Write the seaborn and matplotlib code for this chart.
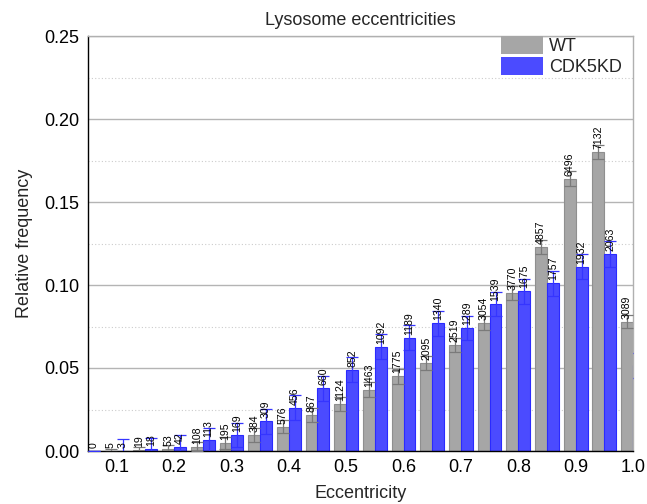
import matplotlib
matplotlib.use("Agg")
import matplotlib.pyplot as plt
import seaborn as sns
import pandas as pd
import numpy as np

# ---- data ----
bins = ["0.05", "0.10", "0.15", "0.20", "0.25", "0.30", "0.35", "0.40", "0.45", "0.50",
        "0.55", "0.60", "0.65", "0.70", "0.75", "0.80", "0.85", "0.90", "0.95", "1.00"]
tick_labels = ["0.1", "0.2", "0.3", "0.4", "0.5", "0.6", "0.7", "0.8", "0.9", "1.0"]

wt_counts = [0, 5, 19, 53, 108, 195, 384, 576, 867, 1124,
             1463, 1775, 2095, 2519, 3054, 3770, 4857, 6496, 7132, 3089]
kd_counts = [0, 3, 18, 42, 113, 169, 309, 456, 660, 852,
             1092, 1189, 1340, 1289, 1539, 1675, 1757, 1932, 2063, 900]

wt_freq = [0.0, 0.0001, 0.0005, 0.0013, 0.0027, 0.0049, 0.0097, 0.0146, 0.0219, 0.0284,
           0.0370, 0.0449, 0.0529, 0.0636, 0.0772, 0.0953, 0.1227, 0.1641, 0.1802, 0.0780]
kd_freq = [0.0, 0.0002, 0.0010, 0.0024, 0.0065, 0.0097, 0.0178, 0.0262, 0.0379, 0.0490,
           0.0628, 0.0683, 0.0770, 0.0741, 0.0885, 0.0963, 0.1010, 0.1110, 0.1186, 0.0517]

wt_err = [0.0, 0.0010, 0.0018, 0.0025, 0.0030, 0.0035, 0.0040, 0.0040, 0.0042, 0.0042,
          0.0045, 0.0043, 0.0042, 0.0042, 0.0043, 0.0042, 0.0043, 0.0043, 0.0042, 0.0042]
kd_err = [0.0, 0.0070, 0.0070, 0.0072, 0.0075, 0.0072, 0.0078, 0.0075, 0.0075, 0.0075,
          0.0075, 0.0075, 0.0075, 0.0072, 0.0072, 0.0075, 0.0075, 0.0075, 0.0078, 0.0075]

groups = ["WT", "CDK5KD"]

df = pd.DataFrame({
    "bin": bins * 2,
    "freq": wt_freq + kd_freq,
    "group": [groups[0]] * len(bins) + [groups[1]] * len(bins),
})

sns.set_theme(style="white")
plt.rcParams["font.family"] = ["Liberation Sans", "DejaVu Sans"]

fig = plt.figure(figsize=(6.47, 5.04), dpi=100)
ax = fig.add_axes([88 / 647, 1 - 451 / 504, 545 / 647, 415 / 504])

face = {"WT": "#a6a6a6", "CDK5KD": "#4b4bff"}
sns.barplot(data=df, x="bin", y="freq", hue="group", order=bins, hue_order=groups,
            palette=face, width=0.83, errorbar=None, ax=ax, saturation=1,
            edgecolor=None, linewidth=0)

xmin, xmax = 0, len(bins) - 1
edge = {"WT": "#8f8f8f", "CDK5KD": "#2a2aff"}
ecol = {"WT": "#7a7a7a", "CDK5KD": "#3535ff"}
errs = {"WT": wt_err, "CDK5KD": kd_err}
counts = {"WT": wt_counts, "CDK5KD": kd_counts}
freqs = {"WT": wt_freq, "CDK5KD": kd_freq}

for cont, g in zip(ax.containers, groups):
    xs = []
    for p in cont.patches:
        p.set_edgecolor(edge[g])
        p.set_linewidth(0.8)
        xs.append(p.get_x() + p.get_width() / 2)
    ax.errorbar(xs, freqs[g], yerr=errs[g], fmt="none", ecolor=ecol[g],
                elinewidth=0.9, capsize=4, capthick=0.9, zorder=3)
    for x, h, c in zip(xs, freqs[g], counts[g]):
        if x < xmin or x > xmax:
            continue  # bar lies outside the visible range
        ax.text(x, h + 0.0018, str(c), rotation=90, ha="center", va="bottom",
                fontsize=7.6, color="black", clip_on=True, zorder=4)

ax.set_xlim(xmin, xmax)
ax.set_ylim(0, 0.25)
ax.set_xticks(np.arange(1, len(bins), 2))
ax.set_xticklabels(tick_labels)
ax.set_yticks([0.0, 0.05, 0.10, 0.15, 0.20, 0.25])
ax.set_yticklabels(["0.00", "0.05", "0.10", "0.15", "0.20", "0.25"])
ax.set_yticks([0.025, 0.075, 0.125, 0.175, 0.225], minor=True)
ax.tick_params(axis="both", which="both", length=0, labelsize=13, colors="black")
ax.tick_params(axis="y", pad=6)
ax.tick_params(axis="x", pad=6)

ax.grid(axis="y", which="major", color="#b4b4b4", linewidth=1.0, linestyle="-")
ax.grid(axis="y", which="minor", color="#cccccc", linewidth=0.8, linestyle=(0, (1, 2)))
ax.grid(axis="x", visible=False)
ax.set_axisbelow(True)

for s in ["left", "bottom"]:
    ax.spines[s].set_color("black")
    ax.spines[s].set_linewidth(1.0)
for s in ["top", "right"]:
    ax.spines[s].set_color("#b0b0b0")
    ax.spines[s].set_linewidth(1.0)

ax.set_title("Lysosome eccentricities", fontsize=13, pad=8)
ax.set_xlabel("Eccentricity", fontsize=13, labelpad=6)
ax.set_ylabel("Relative frequency", fontsize=13, labelpad=8)

leg = ax.legend(loc="upper right", bbox_to_anchor=(1 - 11 / 545, 1.0), frameon=False,
                fontsize=13, handlelength=2.3, handleheight=1.15, handletextpad=0.35,
                labelspacing=0.1, borderpad=0, borderaxespad=0)
for h, g in zip(leg.legend_handles, groups):
    h.set_facecolor(face[g])
    h.set_edgecolor(face[g])

fig.savefig("out.png", dpi=100)
